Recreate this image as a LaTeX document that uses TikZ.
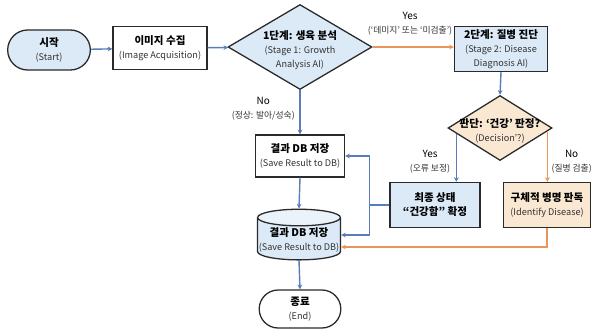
\documentclass[tikz,border=0pt]{standalone}
\usepackage{fontspec}
\setmainfont{Noto Sans CJK KR}
\usepackage{tikz}
\usetikzlibrary{calc,shapes.geometric,shapes.misc,arrows.meta}
\definecolor{flowblue}{HTML}{5A7DB9}
\definecolor{floworange}{HTML}{E8945A}
\definecolor{boxblue}{HTML}{DCEAF7}
\definecolor{boxorange}{HTML}{FBE8D3}
\definecolor{edgegray}{HTML}{2A2A2A}
\newcommand{\ttl}[1]{{\fontsize{9}{12}\selectfont\bfseries #1}}
\newcommand{\sub}[1]{{\fontsize{7.8}{10.5}\selectfont\color{black!80}#1}}
\newcommand{\lbtop}[1]{{\fontsize{8.5}{10}\selectfont #1}}
\newcommand{\lbsub}[1]{{\fontsize{7.5}{9.5}\selectfont\color{black!80}#1}}
\tikzset{
  box/.style={draw=edgegray, line width=1.1pt, align=center, inner sep=1pt},
  term/.style={box, rounded rectangle},
  dia/.style={draw=edgegray, line width=1.1pt, diamond, inner sep=0pt},
  dbase/.style={box, cylinder, shape border rotate=90, aspect=0.2,
    cylinder uses custom fill, cylinder body fill=boxblue, cylinder end fill=boxblue!60},
  bflow/.style={flowblue, line width=1.2pt, -{Stealth[length=4pt,width=4pt]}},
  oflow/.style={floworange, line width=1.2pt, -{Stealth[length=4pt,width=4pt]}},
  lbl/.style={align=center, inner sep=0pt}
}

\begin{document}
\begin{tikzpicture}
		%%%%% START %%%%%
		\useasboundingbox (0,0) rectangle (17.79,-9.96);
		
		\node[term, fill=boxblue, minimum width=2.55cm, minimum height=1.2cm] (start) at (1.47,-1.5) {\ttl{시작}\\\sub{(Start)}};
		\node[box, fill=white, minimum width=2.82cm, minimum height=1.29cm] (acq) at (4.8,-1.44) {\ttl{이미지 수집}\\\sub{(Image Acquisition)}};
		
		\node[dia, fill=boxblue, minimum width=4.32cm, minimum height=2.55cm] (s1) at (9.0,-1.41) {};
		\node[lbl] (s1txt) at (9.0,-1.5) {\ttl{1단계: 생육 분석}\\\sub{(Stage 1: Growth}\\\sub{Analysis AI)}};
		
		\node[box, fill=boxblue, minimum width=2.79cm, minimum height=1.35cm] (s2) at (15.03,-1.47) {\ttl{2단계: 질병 진단}\\\sub{(Stage 2: Disease}\\\sub{Diagnosis AI)}};
		
		\node[dia, fill=boxorange, minimum width=3.12cm, minimum height=1.95cm] (dec) at (15.0,-3.84) {};
		\node[lbl] (dectxt) at (15.0,-3.92) {\ttl{판단: ‘건강’ 판정?}\\\sub{(Decision’?)}};
		
		\node[box, fill=white, minimum width=2.67cm, minimum height=1.26cm] (save) at (9.0,-4.68) {\ttl{결과 DB 저장}\\\sub{(Save Result to DB)}};
		\node[box, fill=boxblue, minimum width=2.7cm, minimum height=1.35cm] (fin) at (13.05,-6.15) {\ttl{최종 상태}\\\ttl{“건강함” 확정}};
		\node[box, fill=boxorange, minimum width=2.6cm, minimum height=1.35cm] (ident) at (16.41,-6.15) {\ttl{구체적 병명 판독}\\\sub{(Identify Disease)}};
		
		\node[dbase, minimum width=2.46cm, minimum height=1.5cm] (db) at (8.97,-7.2) {\ttl{결과 DB 저장}\\\sub{(Save Result to DB)}};
		\node[term, fill=white, minimum width=2.52cm, minimum height=1.14cm] (end) at (9.0,-9.27) {\ttl{종료}\\\sub{(End)}};
		
		% main line
		\draw[bflow] (start) -- (acq);
		\draw[bflow] (acq) -- (s1);
		\draw[oflow] (s1.east) -- (s1.east -| s2.west);
		\node[lbl] (yes1) at (12.3,-0.72) {\lbtop{Yes}\\\lbsub{(‘데미지’ 또는 ‘미검출’)}};
		\draw[bflow] (s1.south) -- (save.north);
		\node[lbl, anchor=east] (no1) at (8.85,-3.25) {\lbtop{No}\\\lbsub{(정상: 발아/성숙)}};
		\draw[bflow] (s2.south) -- (dec.north);
		
		% decision branches
		\coordinate (decl) at ($(dec.west)!0.17!(dec.south)$);
		\coordinate (decr) at ($(dec.east)!0.1!(dec.south)$);
		\draw[bflow] (decl) -- (decl |- fin.north);
		\node[lbl] (yes2) at (12.9,-4.85) {\lbtop{Yes}\\\lbsub{(오류 보정)}};
		\draw[oflow] (decr) -- (decr |- ident.north);
		\node[lbl, anchor=east] (no2) at (17.76,-4.85) {\lbtop{No}\\\lbsub{(질병 검출)}};
		
		% back to database
		\draw[bflow] (save.south) -- (db.north);
		\draw[bflow] (db.south) -- (end.north);
		\draw[flowblue, line width=1.2pt] (fin.west) -- ++(-0.6,0) coordinate (jn);
		\draw[bflow] (jn) |- (save.east);
		\draw[bflow] (jn) |- ([yshift=0.15cm]db.east);
		\draw[oflow] (ident.south) |- ([yshift=-0.21cm]db.east);
		%%%%% END %%%%%
\end{tikzpicture}
\end{document}
